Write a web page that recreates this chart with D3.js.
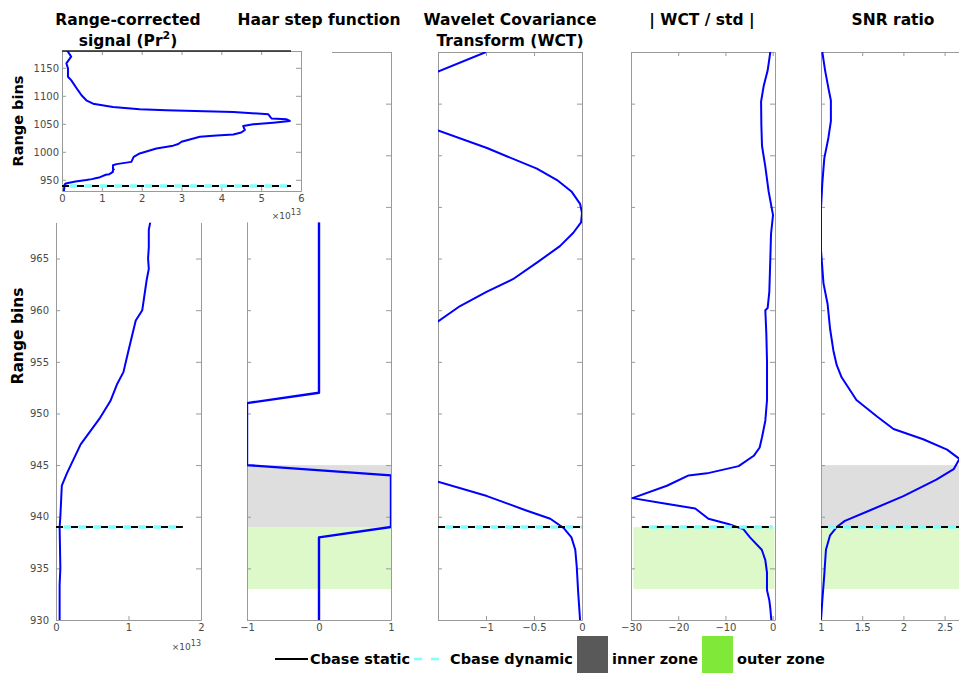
<!DOCTYPE html>
<html>
<head>
<meta charset="utf-8">
<script src="https://cdn.jsdelivr.net/npm/d3@7"></script>
<style>
body { margin: 0; background: #fff; }
text { font-family: "DejaVu Sans", sans-serif; }
</style>
</head>
<body>
<svg></svg>
<script>
const [WIDTH, HEIGHT] = [959, 673]

// range-corrected signal (x1e13) against range bin
const signalBins = [930, 933.4, 935, 939, 940, 943, 944.2, 947, 949.6, 951.2, 952.8, 954, 956.1, 959, 960, 962.9, 964, 965, 966.1, 967.8, 968.5,
    970, 976, 978, 982, 991, 997, 1006, 1011, 1014, 1018, 1027, 1029, 1031, 1034.5, 1039, 1046, 1049, 1052, 1055, 1058, 1059.5,
    1067, 1071, 1074, 1076, 1080, 1086, 1092, 1101, 1110, 1128, 1134, 1149, 1158, 1170, 1178.6, 1182]
const signalVals = [0.05, 0.05, 0.06, 0.05, 0.06, 0.08, 0.15, 0.34, 0.61, 0.75, 0.84, 0.93, 1.0, 1.1, 1.19, 1.25, 1.28, 1.27, 1.28, 1.28, 1.30,
    1.28, 1.28, 1.37, 1.74, 1.80, 1.95, 2.37, 2.79, 2.92, 3.0, 3.46, 3.88, 4.3, 4.5, 4.59, 4.55, 4.8, 5.3, 5.72, 5.64, 5.26,
    5.18, 4.3, 2.62, 1.95, 1.28, 0.78, 0.61, 0.49, 0.4, 0.23, 0.15, 0.15, 0.11, 0.23, 0.15, 0.11]

const haarBins = [930, 938, 939, 944, 945, 951, 952, 985]
const haarVals = [0, 0, 1, 1, -1, -1, 0, 0]

const wctBins = [930, 932.7, 935.2, 936.8, 938, 938.9, 939.8, 940.6, 942, 943.4, 946, 950, 955, 958.9, 960.4, 961.8, 963, 964.6,
    966.2, 967.5, 968.5, 969.4, 970.3, 971.5, 972.6, 973.7, 975.7, 977.4, 979.5, 981.5, 983.1, 985]
const wctVals = [-0.02, -0.04, -0.055, -0.07, -0.11, -0.19, -0.33, -0.58, -0.99, -1.5, -2.1, -2.6, -2.2, -1.5, -1.27, -0.99, -0.72, -0.47,
    -0.23, -0.09, -0.01, 0, -0.02, -0.11, -0.26, -0.47, -0.99, -1.5, -2.0, -1.9, -1.5, -1.0]

const wctStdBins = [930, 931.1, 931.9, 932.9, 934.6, 935.8, 936.8, 938, 938.8, 939.3, 939.8, 940.8, 941.3, 941.8, 943, 944, 944.2,
    944.9, 945.9, 946.7, 947.7, 949.3, 951.3, 955, 957.8, 960, 960.2, 961.8, 965, 967.4, 969.2, 971.5, 973.9, 975.9, 977.9,
    980.2, 981.7, 983.2, 985]
const wctStdVals = [-0.28, -0.49, -0.7, -1.2, -1.2, -1.55, -2.3, -4.8, -6.2, -9.4, -13.6, -16.4, -23.2, -29.7, -22.4, -17.8, -13.9,
    -7.2, -4.0, -2.75, -2.25, -1.55, -1.19, -1.19, -1.34, -1.55, -1.06, -0.7, -0.49, -0.34, 0.08, -0.85, -1.55, -2.25, -2.39,
    -2.45, -1.9, -1.06, -0.49]

const snrBins = [930, 931.9, 934.4, 936.8, 938.2, 939, 939.6, 940.6, 942, 943.6, 944.6, 945.6, 946.5, 947.5, 948.5, 949.7, 951.3,
    953.5, 954.7, 956.1, 958.2, 960.6, 962.6, 965.8, 969.9, 972.3, 974.7, 976.7, 978.3, 980.3, 981.5, 983.2, 985]
const snrVals = [1.0, 1.016, 1.04, 1.06, 1.11, 1.19, 1.29, 1.59, 2.0, 2.4, 2.61, 2.68, 2.53, 2.24, 1.88, 1.68, 1.43,
    1.25, 1.19, 1.15, 1.11, 1.08, 1.03, 1.0, 1.0, 1.016, 1.04, 1.09, 1.12, 1.12, 1.09, 1.05, 1.016]

const cbaseBin = 939
const innerZone = [939, 945]
const outerZone = [933, 939]

const rangeTicks = [930, 935, 940, 945, 950, 955, 960, 965, 970, 975, 980, 985]
const insetRangeTicks = [950, 1000, 1050, 1100, 1150]
const insetSignalTicks = [0, 1, 2, 3, 4, 5, 6]

const legendLabels = ['Cbase static', 'Cbase dynamic', 'inner zone', 'outer zone']

const AXIS = '#9a9a9a'
const TICK_TEXT = '#4a4a4a'
const BLUE = '#0000ff'
const CYAN = '#80ffff'
const ZONE_GRAY = '#595959'
const ZONE_GREEN = '#80e838'

const svg = d3.select('svg')
    .attr('width', WIDTH)
    .attr('height', HEIGHT)
    .attr('viewBox', '0 0 ' + WIDTH + ' ' + HEIGHT)

function styleAxis(sel, showText) {
    sel.select('.domain').attr('stroke', AXIS)
    sel.selectAll('.tick line').attr('stroke', AXIS)
    sel.selectAll('.tick text')
        .attr('fill', TICK_TEXT)
        .style('font-size', '10px')
        .style('display', showText ? null : 'none')
}

function zip(bins, vals) {
    return bins.map((b, i) => ({ bin: b, val: vals[i] }))
}

function drawPanel(p) {
    const x = d3.scaleLinear().domain(p.xDomain).range([p.left, p.right])
    const y = d3.scaleLinear().domain(p.yDomain).range([p.bottom, p.top])
    const g = svg.append('g').attr('class', 'panel-' + p.id)

    svg.append('clipPath').attr('id', 'clip-' + p.id)
        .append('rect')
        .attr('x', p.left).attr('y', p.top)
        .attr('width', p.right - p.left).attr('height', p.bottom - p.top)

    // shaded zones
    for (const z of p.zones || []) {
        const xr = z.xRange || p.xDomain
        g.append('rect')
            .attr('x', x(xr[0]))
            .attr('width', x(xr[1]) - x(xr[0]))
            .attr('y', y(z.range[1]))
            .attr('height', y(z.range[0]) - y(z.range[1]))
            .attr('fill', z.color)
            .attr('fill-opacity', z.alpha)
    }

    // axes (MATLAB style: ticks pointing inward, box on)
    const bottom = g.append('g').attr('transform', `translate(0,${p.bottom})`)
        .call(d3.axisBottom(x).tickValues(p.xTicks).tickSizeInner(-4).tickSizeOuter(0).tickPadding(4)
            .tickFormat(d3.format('~g')))
    styleAxis(bottom, true)

    if (p.topAxis) {
        const top = g.append('g').attr('transform', `translate(0,${p.top})`)
            .call(d3.axisTop(x).tickValues(p.xTicks).tickSizeInner(-4).tickSizeOuter(0))
        styleAxis(top, false)
    }

    const left = g.append('g').attr('transform', `translate(${p.left},0)`)
        .call(d3.axisLeft(y).tickValues(p.yTicks).tickSizeInner(-4).tickSizeOuter(0).tickPadding(p.yPad || 7)
            .tickFormat(d3.format('d')))
    styleAxis(left, p.yLabels)

    const right = g.append('g').attr('transform', `translate(${p.right},0)`)
        .call(d3.axisRight(y).tickValues(p.yTicks).tickSizeInner(-5).tickSizeOuter(0))
    styleAxis(right, false)

    // curve
    const line = d3.line().x(d => x(d.val)).y(d => y(d.bin))
    g.append('path')
        .datum(zip(p.bins, p.vals))
        .attr('clip-path', `url(#clip-${p.id})`)
        .attr('d', line)
        .attr('fill', 'none')
        .attr('stroke', BLUE)
        .attr('stroke-width', p.lineWidth || 2)
        .attr('stroke-linejoin', 'round')

    // cloud base lines
    if (p.cbaseRange) {
        const [a, b] = p.cbaseRange
        g.append('line')
            .attr('x1', x(a)).attr('x2', x(b))
            .attr('y1', y(cbaseBin)).attr('y2', y(cbaseBin))
            .attr('stroke', CYAN).attr('stroke-width', 3.5)
            .attr('stroke-dasharray', '8,7').attr('stroke-dashoffset', 7.5)
        g.append('line')
            .attr('x1', x(a)).attr('x2', x(b))
            .attr('y1', y(cbaseBin)).attr('y2', y(cbaseBin))
            .attr('stroke', '#000').attr('stroke-width', 2)
            .attr('stroke-dasharray', '7,8')
    }
    return { x, y, g }
}

function addExponent(x, y) {
    const t = svg.append('text')
        .attr('x', x).attr('y', y)
        .attr('text-anchor', 'end')
        .attr('fill', TICK_TEXT)
        .style('font-size', '9px')
    t.append('tspan').text('\u00d710')
    t.append('tspan').attr('dy', -4).style('font-size', '8px').text('13')
}

const Y_TOP = 52, Y_BOTTOM = 620
const yPerBin = (Y_BOTTOM - Y_TOP) / (985 - 930)

// panel 1: range-corrected signal, lower part
drawPanel({
    id: 'signal', left: 56, right: 201, top: Y_BOTTOM - yPerBin * 38.5, bottom: Y_BOTTOM,
    xDomain: [0, 2], yDomain: [930, 968.5], xTicks: [0, 1, 2], yTicks: rangeTicks.filter(t => t <= 965),
    yLabels: true, topAxis: false, bins: signalBins, vals: signalVals, cbaseRange: [0, 1.75]
})
addExponent(201, 650)

// panel 2: Haar step function
drawPanel({
    id: 'haar', left: 247, right: 391, top: Y_TOP, bottom: Y_BOTTOM,
    xDomain: [-1, 1], yDomain: [930, 985], xTicks: [-1, 0, 1], yTicks: rangeTicks,
    topAxis: true, bins: haarBins, vals: haarVals, lineWidth: 2.4,
    zones: [{ range: innerZone, color: ZONE_GRAY, alpha: 0.2 }, { range: outerZone, color: ZONE_GREEN, alpha: 0.27 }]
})

// panel 3: WCT
drawPanel({
    id: 'wct', left: 438, right: 582, top: Y_TOP, bottom: Y_BOTTOM,
    xDomain: [-1.5, 0], yDomain: [930, 985], xTicks: [-1, -0.5, 0], yTicks: rangeTicks,
    topAxis: true, bins: wctBins, vals: wctVals, cbaseRange: [-1.5, 0]
})

// panel 4: |WCT / std|
drawPanel({
    id: 'wctstd', left: 631, right: 775, top: Y_TOP, bottom: Y_BOTTOM,
    xDomain: [-30, 0.5], yDomain: [930, 985], xTicks: [-30, -20, -10, 0], yTicks: rangeTicks,
    topAxis: true, bins: wctStdBins, vals: wctStdVals, cbaseRange: [-27.7, 0],
    zones: [{ range: outerZone, color: ZONE_GREEN, alpha: 0.27, xRange: [-29.5, 0.4] }]
})

// panel 5: SNR ratio
drawPanel({
    id: 'snr', left: 821, right: 965, top: Y_TOP, bottom: Y_BOTTOM,
    xDomain: [1, 1 + 144 / 82.4], yDomain: [930, 985], xTicks: [1, 1.5, 2, 2.5], yTicks: rangeTicks,
    topAxis: true, bins: snrBins, vals: snrVals, cbaseRange: [1, 2.75],
    zones: [{ range: innerZone, color: ZONE_GRAY, alpha: 0.2 }, { range: outerZone, color: ZONE_GREEN, alpha: 0.27 }]
})

// white area behind the inset
svg.append('rect')
    .attr('x', 0).attr('y', 47)
    .attr('width', 332).attr('height', Y_BOTTOM - yPerBin * 38.5 - 47)
    .attr('fill', '#fff')

// inset: full signal profile
const inset = drawPanel({
    id: 'inset', left: 62, right: 301, top: 51, bottom: 191,
    xDomain: [0, 6], yDomain: [930, 1180], xTicks: insetSignalTicks, yTicks: insetRangeTicks,
    yLabels: true, yPad: 3, topAxis: true, bins: signalBins, vals: signalVals, cbaseRange: [0, 5.75]
})
inset.g.append('line')
    .attr('x1', inset.x(0)).attr('x2', inset.x(5.75))
    .attr('y1', inset.y(1180)).attr('y2', inset.y(1180))
    .attr('stroke', '#222').attr('stroke-width', 1.5)
addExponent(301, 219)

// axis titles
svg.append('text')
    .attr('transform', `translate(23,${inset.y(1055)}) rotate(-90)`)
    .attr('text-anchor', 'middle')
    .style('font-size', '14.5px').style('font-weight', 'bold')
    .text('Range bins')
svg.append('text')
    .attr('transform', 'translate(23,336) rotate(-90)')
    .attr('text-anchor', 'middle')
    .style('font-size', '15.5px').style('font-weight', 'bold')
    .text('Range bins')

// panel titles
const titles = [
    { x: 128, lines: ['Range-corrected', 'signal (Pr²)'] },
    { x: 319, lines: ['Haar step function'] },
    { x: 510, lines: ['Wavelet Covariance', 'Transform (WCT)'] },
    { x: 702, lines: ['| WCT / std |'] },
    { x: 893, lines: ['SNR ratio'] }
]
for (const t of titles) {
    t.lines.forEach((ln, i) => {
        const el = svg.append('text')
            .attr('x', t.x).attr('y', 25 + i * 21)
            .attr('text-anchor', 'middle')
            .style('font-size', '15.5px').style('font-weight', 'bold')
        if (ln.endsWith('(Pr²)')) {
            el.append('tspan').text('signal (Pr')
            el.append('tspan').attr('dy', -7).style('font-size', '11px').text('2')
            el.append('tspan').attr('dy', 7).text(')')
        } else {
            el.text(ln)
        }
    })
}

// legend
const legend = svg.append('g').attr('class', 'legend')
const LY = 659
legend.append('line').attr('x1', 275).attr('x2', 308).attr('y1', LY).attr('y2', LY)
    .attr('stroke', '#000').attr('stroke-width', 2)
legend.append('line').attr('x1', 414).attr('x2', 442).attr('y1', LY).attr('y2', LY)
    .attr('stroke', CYAN).attr('stroke-width', 2.5).attr('stroke-dasharray', '8,9')
legend.append('rect').attr('x', 577).attr('y', 636).attr('width', 31).attr('height', 37).attr('fill', ZONE_GRAY)
legend.append('rect').attr('x', 702).attr('y', 636).attr('width', 31).attr('height', 37).attr('fill', ZONE_GREEN)
const legendX = [310, 450, 612, 737]
legend.selectAll('text.lbl')
    .data(legendLabels)
    .join('text')
    .attr('class', 'lbl')
    .attr('x', (_, i) => legendX[i])
    .attr('y', LY + 5)
    .style('font-size', '14.5px').style('font-weight', 'bold')
    .text(d => d)
</script>
</body>
</html>
